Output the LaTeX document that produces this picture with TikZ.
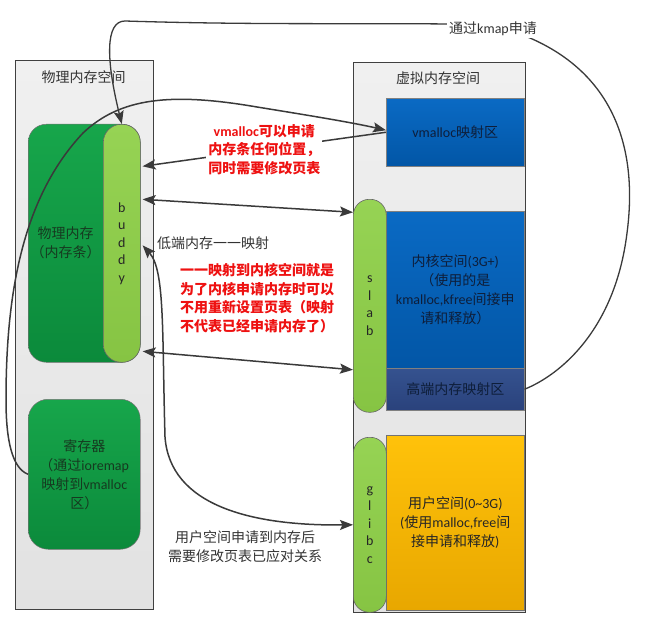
\documentclass[tikz,border=0pt]{standalone}
\usepackage{fontspec}
\setmainfont{Carlito}
\newfontfamily\cjk{Noto Sans CJK SC}
\newcommand\C[1]{{\cjk #1}}
\usetikzlibrary{arrows.meta,calc}
\definecolor{panelA}{HTML}{F0F0F0}
\definecolor{panelB}{HTML}{E2E2E2}
\definecolor{grnA}{HTML}{17A64B}
\definecolor{grnB}{HTML}{0B8A3B}
\definecolor{lgrnA}{HTML}{96D354}
\definecolor{lgrnB}{HTML}{86C443}
\definecolor{blueA}{HTML}{0A6AC4}
\definecolor{blueB}{HTML}{0256A6}
\definecolor{navyA}{HTML}{35528F}
\definecolor{navyB}{HTML}{2A427C}
\definecolor{ylwA}{HTML}{FFC20A}
\definecolor{ylwB}{HTML}{E8A700}
\definecolor{arrowc}{HTML}{3A3A3A}
\definecolor{redt}{HTML}{EE1111}
\definecolor{darkt}{HTML}{333333}
\definecolor{bluet}{HTML}{0E1E3A}
\definecolor{grnt}{HTML}{163A20}
\tikzset{
  base/.style={font=\fontsize{14}{19}\selectfont, align=center, inner sep=0pt},
  panel/.style={base, draw=black!75, line width=0.7pt, top color=panelA, bottom color=panelB, anchor=north west},
  grnbox/.style={base, draw=black!55, line width=0.5pt, top color=grnA, bottom color=grnB, anchor=north west, rounded corners=18pt, text=grnt},
  pillbox/.style={base, font=\fontsize{14}{17.5}\selectfont, draw=black!60, line width=0.6pt, top color=lgrnA, bottom color=lgrnB, anchor=north west, rounded corners=16pt, text=black!85},
  bluebox/.style={base, draw=black!50, line width=0.5pt, top color=blueA, bottom color=blueB, anchor=north west, text=bluet},
  navybox/.style={base, draw=black!50, line width=0.5pt, top color=navyA, bottom color=navyB, anchor=north west, text=bluet},
  ylwbox/.style={base, draw=black!55, line width=0.5pt, top color=ylwA, bottom color=ylwB, anchor=north west, text=black!85},
  txt/.style={base, text=darkt},
  redtxt/.style={base, font=\fontsize{14}{18.5}\selectfont\bfseries, text=redt},
  tip/.tip={Stealth[length=13pt,width=10pt,inset=2.5pt]},
  conn/.style={draw=arrowc, line width=1.5pt},
  arr/.style={conn, -tip},
  dblarr/.style={conn, tip-tip},
  plain/.style={conn, line width=1.3pt}
}
\begin{document}
\begin{tikzpicture}[x=1pt,y=-1pt]
\useasboundingbox (0,0) rectangle (655,631);
\fill[white] (0,0) rectangle (655,631);
% panels
\node[panel, minimum width=138pt, minimum height=549pt] (phys) at (15,60) {};
\node[panel, minimum width=172pt, minimum height=550pt] (virt) at (353,62) {};
\node[txt] (physT) at (83.5,77) {\C{物理内存空间}};
\node[txt] (virtT) at (438,78) {\C{虚拟内存空间}};
% physical side
\node[grnbox, minimum width=112pt, minimum height=238pt] (mem) at (28,124) {};
\node[pillbox, rounded corners=18pt, minimum width=37pt, minimum height=238pt] (buddy) at (103,124) {b\\u\\d\\d\\y};
\node[txt, text=grnt] (memT) at (65.5,243) {\C{物理内存}\\\C{（内存条）}};
\node[grnbox, rounded corners=20pt, minimum width=112pt, minimum height=150pt] (reg) at (28,399) {\C{寄存器}\\\C{（通过}ioremap\\\C{映射到}vmalloc\\\C{区）}};
% virtual side
\node[bluebox, minimum width=138pt, minimum height=68pt] (vm) at (386,98) {vmalloc\C{映射区}};
\node[bluebox, minimum width=138pt, minimum height=157pt] (kern) at (386,211) {\C{内核空间}(3G+)\\\C{（使用的是}\\kmalloc,kfree\C{间接申}\\\C{请和释放）}};
\node[navybox, minimum width=138pt, minimum height=42pt] (high) at (386,368) {\C{高端内存映射区}};
\node[pillbox, minimum width=33pt, minimum height=213pt] (slab) at (353,199) {s\\l\\a\\b};
\node[ylwbox, minimum width=138pt, minimum height=175pt] (user) at (386,435) {\C{用户空间}(0\textasciitilde3G)\\(\C{使用}malloc,free\C{间}\\\C{接申请和释放})};
\node[pillbox, minimum width=33pt, minimum height=175pt] (glibc) at (353,437) {g\\l\\i\\b\\c};
% free texts
\node[txt, anchor=west] (low) at (157,243) {\C{低端内存一一映射}};
\node[redtxt, align=left] (redB) at (257,298) {\C{一一映射到内核空间就是}\\\C{为了内核申请内存时可以}\\\C{不用重新设置页表（映射}\\\C{不代表已经申请内存了）}};
\node[txt] (userL) at (245,547) {\C{用户空间申请到内存后}\\\C{需要修改页表已应对关系}};
% connectors
\draw[dblarr] ([xshift=2pt,yshift=44pt]buddy.east) -- ([yshift=93.5pt]slab.west);
\draw[dblarr] ([xshift=2pt,yshift=-108pt]buddy.east) -- ([yshift=-64pt]slab.west);
\draw[arr] (vm.west) -- ([xshift=2pt,yshift=77pt]buddy.east)
  node[redtxt, midway, fill=white, inner sep=2pt] (vmL) {vmalloc\C{可以申请}\\\C{内存条任何位置，}\\\C{同时需要修改页表}};
\draw[dblarr] ([xshift=2pt,yshift=-2pt]buddy.east) .. controls (165,270) and (162,330) .. (165,437)
  .. controls (170,505) and (250,526) .. (glibc.west);
\draw[arr] (reg.west) .. controls (12,468) and (6,440) .. (6,400)
  .. controls (6,300) and (20,200) .. (83,133)
  .. controls (120,98) and (170,92) .. (257,107)
  .. controls (300,114) and (350,122) .. ([yshift=2pt]vm.west);
\draw[plain, -tip] (high.east) .. controls (560,375) and (615,330) .. (627,233)
  .. controls (638,150) and (615,75) .. (530,38)
  .. controls (510,30) and (470,24) .. (448,24)
  .. controls (350,23) and (250,25) .. (125,21)
  .. controls (105,21) and (106,60) .. (buddy.north);
\node[txt, fill=white, inner sep=2pt] (kmapL) at (493,29) {\C{通过}kmap\C{申请}};
\end{tikzpicture}
\end{document}
